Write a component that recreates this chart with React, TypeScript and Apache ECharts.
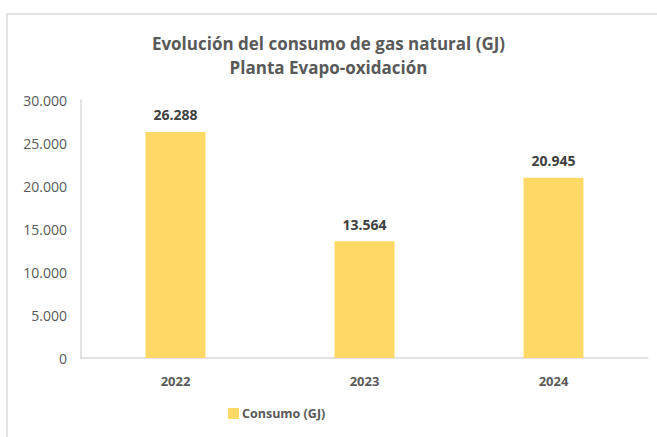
import React, { useEffect, useRef } from "react";
import * as echarts from "echarts";

const categories = ["2022", "2023", "2024"];
const consumo = [26288, 13564, 20945];
const seriesName = "Consumo (GJ)";
const titleLines = ["Evolución del consumo de gas natural (GJ)", "Planta Evapo-oxidación"];

const fmt = (v: number) => String(Math.round(v)).replace(/\B(?=(\d{3})+(?!\d))/g, ".");

const FONT = "'Open Sans', 'Noto Sans', sans-serif";

export default function App() {
  const ref = useRef<HTMLDivElement>(null);
  useEffect(() => {
    if (!ref.current) return;
    const chart = echarts.init(ref.current, undefined, { renderer: "svg" });
    chart.setOption({
      animation: false,
      backgroundColor: "#ffffff",
      textStyle: { fontFamily: FONT },
      title: {
        text: titleLines.join("\n"),
        left: "center",
        top: 26,
        textStyle: {
          fontFamily: FONT,
          fontSize: 17,
          fontWeight: "bold",
          color: "#595959",
          lineHeight: 24,
        },
      },
      graphic: [
        {
          type: "rect",
          shape: { x: 7, y: 14, width: 700, height: 500 },
          style: { fill: "none", stroke: "#d9d9d9", lineWidth: 1.5 },
          silent: true,
          z: -1,
        },
      ],
      legend: {
        bottom: 12,
        left: 223,
        itemWidth: 11,
        itemHeight: 11,
        icon: "rect",
        itemGap: 4,
        textStyle: { fontFamily: FONT, fontSize: 12.5, fontWeight: "bold", color: "#595959", padding: [0, 0, 0, -2] },
        data: [seriesName],
      },
      grid: { left: 81, right: 9, top: 100, bottom: 79, containLabel: false },
      xAxis: {
        type: "category",
        data: categories,
        axisLine: { lineStyle: { color: "#d9d9d9", width: 1.5 } },
        axisTick: { show: false },
        axisLabel: { fontFamily: FONT, fontSize: 13, fontWeight: "bold", color: "#595959", margin: 16 },
      },
      yAxis: {
        type: "value",
        min: 0,
        max: 30000,
        interval: 5000,
        axisLine: { show: true, lineStyle: { color: "#d9d9d9", width: 1.5 } },
        axisTick: { show: false },
        splitLine: { show: false },
        axisLabel: { fontFamily: FONT, fontSize: 14, color: "#595959", margin: 14, formatter: (v: number) => fmt(v) },
      },
      series: [
        {
          name: seriesName,
          type: "bar",
          data: consumo,
          barWidth: 60,
          itemStyle: { color: "#FFD966" },
          label: {
            show: true,
            position: "top",
            distance: 10,
            fontFamily: FONT,
            fontSize: 14,
            fontWeight: "bold",
            color: "#404040",
            formatter: (p: any) => fmt(p.value),
          },
        },
      ],
    });
    return () => chart.dispose();
  }, []);
  return (
    <div
      ref={ref}
      style={{ position: "fixed", left: 0, top: 0, width: 657, height: 437 }}
    />
  );
}
